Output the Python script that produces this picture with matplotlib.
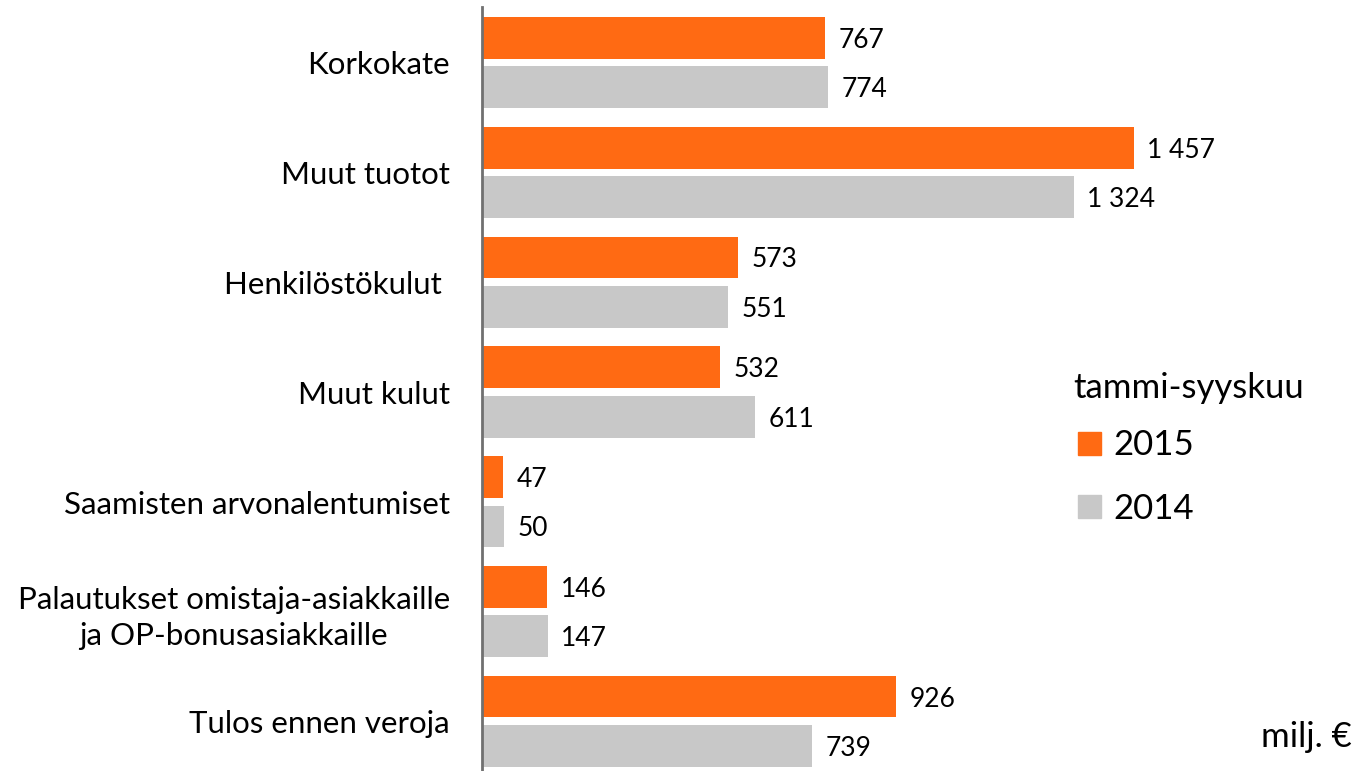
import matplotlib
matplotlib.use("Agg")
from matplotlib import pyplot as plt
from matplotlib.patches import Patch
import numpy as np

categories = ["Korkokate", "Muut tuotot", "Henkilöstökulut ", "Muut kulut",
              "Saamisten arvonalentumiset",
              "Palautukset omistaja-asiakkaille\nja OP-bonusasiakkaille",
              "Tulos ennen veroja"]
values_2015 = [767, 1457, 573, 532, 47, 146, 926]
values_2014 = [774, 1324, 551, 611, 50, 147, 739]
series_names = ["2015", "2014"]
legend_title = "tammi-syyskuu"
unit_label = "milj. €"

orange = "#FF6A13"
grey = "#C8C8C8"

plt.rcParams['font.family'] = ['Lato', 'DejaVu Sans']

def fmt(v):
    return f"{v:,}".replace(",", " ")

fig = plt.figure(figsize=(13.58, 7.71), dpi=100)
ax = fig.add_axes([482/1358, 0, 1 - 482/1358, 1 - 7/771])

y = np.arange(len(categories))
h = 0.38
ax.barh(y - 0.228, values_2015, height=h, color=orange)
ax.barh(y + 0.222, values_2014, height=h, color=grey)

# value labels next to the bar ends
for yi, v in zip(y, values_2015):
    ax.text(v + 30, yi - 0.228, fmt(v), va="center_baseline", ha="left", fontsize=19)
for yi, v in zip(y, values_2014):
    ax.text(v + 30, yi + 0.222, fmt(v), va="center_baseline", ha="left", fontsize=19)

ax.set_xlim(0, 1959)
ax.set_ylim(6.45, -0.51)
ax.set_yticks(y)
ax.set_yticklabels(categories, fontsize=22.5, multialignment="center",
                   linespacing=1.35)
ax.tick_params(axis="y", length=0, pad=23)
ax.set_xticks([])
for s in ["top", "right", "bottom"]:
    ax.spines[s].set_visible(False)
ax.spines["left"].set_color("#707070")
ax.spines["left"].set_linewidth(2)

# legend entries, title written separately (tighter gap than legend allows)
handles = [Patch(color=orange, label=series_names[0]),
           Patch(color=grey, label=series_names[1])]
leg = fig.legend(handles=handles, loc="center left",
                 bbox_to_anchor=(1068/1358, 1 - 477/771), frameon=False,
                 fontsize=25, handlelength=0.65,
                 handleheight=0.65, handletextpad=0.35, labelspacing=0.9,
                 borderaxespad=0, borderpad=0.3)
fig.text(1073/1358, 1 - 388/771, legend_title, ha="left", va="center", fontsize=25)

fig.text(1352/1358, 1 - 737/771, unit_label, ha="right", va="center", fontsize=25)

fig.savefig("out.png", dpi=100)
